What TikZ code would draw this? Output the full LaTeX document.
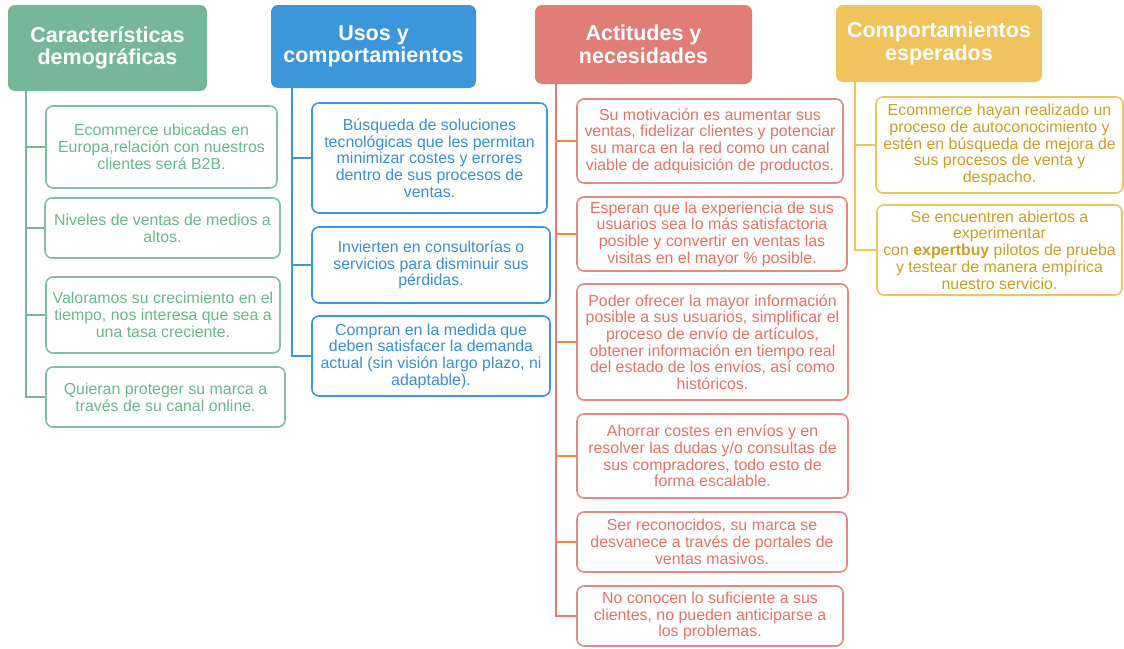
\documentclass[tikz,border=0pt]{standalone}
\usepackage{fontspec}
\setmainfont{Liberation Sans}
\usetikzlibrary{positioning}
\definecolor{grn}{HTML}{76B799}
\definecolor{grntx}{HTML}{6CB690}
\definecolor{blu}{HTML}{3B97DA}
\definecolor{blutx}{HTML}{3A8ED6}
\definecolor{rd}{HTML}{E07D77}
\definecolor{rdtx}{HTML}{E2736C}
\definecolor{org}{HTML}{F0883E}
\definecolor{ylw}{HTML}{F0C35C}
\definecolor{ylwtx}{HTML}{C9A124}
\tikzset{
  head/.style={rounded corners=7pt,align=center,text=white,inner sep=0pt,
    font=\fontsize{21.5}{22.5}\selectfont\bfseries},
  item/.style={draw,line width=1.6pt,rounded corners=7pt,fill=white,align=center,inner sep=0pt,
    font=\fontsize{15.9}{16.7}\selectfont},
  gitem/.style={item,draw=grn!90,text=grntx},
  bitem/.style={item,draw=blu,text=blutx},
  ritem/.style={item,draw=rd!90,text=rdtx},
  yitem/.style={item,draw=ylw,text=ylwtx},
  trunk/.style={line width=1.8pt},
}
\begin{document}
\begin{tikzpicture}[x=1pt,y=-1pt]
\useasboundingbox (0,0) rectangle (1124,648);
% column headers
\node[head,fill=grn,minimum width=199pt,minimum height=86pt] (h1) at (107.5,48) {Características\\demográficas};
\node[head,fill=blu,minimum width=205pt,minimum height=83pt] (h2) at (373.5,46.5) {Usos y\\comportamientos};
\node[head,fill=rd,minimum width=217pt,minimum height=79pt] (h3) at (643.5,44.5) {Actitudes y\\necesidades};
\node[head,fill=ylw,minimum width=206pt,minimum height=77pt] (h4) at (939,43.5) {Comportamientos\\esperados};
\coordinate (t1) at (26,0);
\coordinate (t2) at (292,0);
\coordinate (t3) at (556,0);
\coordinate (t4) at (855,0);

% demograficas
\node[gitem,minimum width=231pt,minimum height=82pt] (d1) at (161.5,147) {Ecommerce ubicadas en\\Europa,relación con nuestros\\clientes será B2B.};
\node[gitem,minimum width=235pt,minimum height=60pt] (d2) at (162.5,228) {Niveles de ventas de medios a\\altos.};
\node[gitem,minimum width=234pt,minimum height=76pt] (d3) at (163,315) {Valoramos su crecimiento en el\\tiempo, nos interesa que sea a\\una tasa creciente.};
\node[gitem,minimum width=239pt,minimum height=60pt] (d4) at (165.5,397) {Quieran proteger su marca a\\través de su canal online.};

% usos
\node[bitem,minimum width=235pt,minimum height=110pt] (u1) at (429.5,158) {Búsqueda de soluciones\\tecnológicas que les permitan\\minimizar costes y errores\\dentro de sus procesos de\\ventas.};
\node[bitem,minimum width=238pt,minimum height=76pt] (u2) at (431,265) {Invierten en consultorías o\\servicios para disminuir sus\\pérdidas.};
\node[bitem,minimum width=238pt,minimum height=80pt] (u3) at (431,356) {Compran en la medida que\\deben satisfacer la demanda\\actual (sin visión largo plazo, ni\\adaptable).};

% actitudes
\node[ritem,minimum width=266pt,minimum height=84pt] (a1) at (710,141) {Su motivación es aumentar sus\\ventas, fidelizar clientes y potenciar\\su marca en la red como un canal\\viable de adquisición de productos.};
\node[ritem,minimum width=270pt,minimum height=74pt] (a2) at (712,234) {Esperan que la experiencia de sus\\usuarios sea lo más satisfactoria\\posible y convertir en ventas las\\visitas en el mayor \% posible.};
\node[ritem,minimum width=271pt,minimum height=116pt] (a3) at (712.5,342) {Poder ofrecer la mayor información\\posible a sus usuarios, simplificar el\\proceso de envío de artículos,\\obtener información en tiempo real\\del estado de los envíos, así como\\históricos.};
\node[ritem,minimum width=271pt,minimum height=84pt] (a4) at (712.5,456) {Ahorrar costes en envíos y en\\resolver las dudas y/o consultas de\\sus compradores, todo esto de\\forma escalable.};
\node[ritem,minimum width=270pt,minimum height=60pt] (a5) at (712,542) {Ser reconocidos, su marca se\\desvanece a través de portales de\\ventas masivos.};
\node[ritem,minimum width=266pt,minimum height=60pt] (a6) at (710,616) {No conocen lo suficiente a sus\\clientes, no pueden anticiparse a\\los problemas.};

% esperados
\node[yitem,minimum width=247pt,minimum height=96pt] (c1) at (999.5,145) {Ecommerce hayan realizado un\\proceso de autoconocimiento y\\estén en búsqueda de mejora de\\sus procesos de venta y\\despacho.};
\node[yitem,minimum width=245pt,minimum height=90pt] (c2) at (999.5,250) {Se encuentren abiertos a\\experimentar\\con \textbf{expertbuy} pilotos de prueba\\y testear de manera empírica\\nuestro servicio.};

% trunks and branches
\draw[trunk,grn] (h1.south -| t1) |- (d4.west);
\foreach \b in {d1,d2,d3} \draw[trunk,grn] (\b.west -| t1) -- (\b.west);
\draw[trunk,blu] (h2.south -| t2) |- (u3.west);
\foreach \b in {u1,u2} \draw[trunk,blu] (\b.west -| t2) -- (\b.west);
\draw[trunk,rd] (h3.south -| t3) |- (a6.west);
\foreach \b in {a1,a2,a3,a4,a5} \draw[trunk,org] ([xshift=0.9pt]\b.west -| t3) -- (\b.west);
\draw[trunk,ylw] (h4.south -| t4) |- (c2.west);
\draw[trunk,ylw] (c1.west -| t4) -- (c1.west);
\end{tikzpicture}
\end{document}
